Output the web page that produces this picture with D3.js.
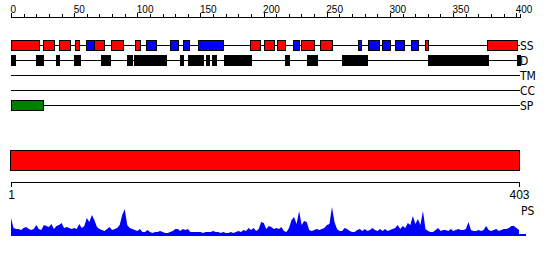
<!DOCTYPE html>
<html>
<head>
<meta charset="utf-8">
<script src="https://cdn.jsdelivr.net/npm/d3@7"></script>
<style>
  body { margin: 0; background: #fff; }
  svg { display: block; font-family: "DejaVu Sans Condensed", "DejaVu Sans", sans-serif; }
</style>
</head>
<body>
<div id="chart"></div>
<script>
// sequence length
var seqLen = 403;

// secondary structure segments [start, end] in residues
var helix = [[0,22],[25,34],[38,47],[51,54],[66,74],[79,89],[98,102],[189,197],[200,208],
             [211,217],[230,240],[245,254],[328,330],[377,401]];
var strand = [[59,66],[107,115],[126,132],[136,141],[148,168],[223,228],[275,277],
              [283,291],[294,300],[304,311],[317,322]];
// disorder
var disorder = [[0,3],[20,25],[36,38],[50,55],[71,78],[92,96],[97,123],[134,136],[140,152],
                [154,157],[159,162],[169,171],[172,190],[217,220],[234,238],[239,242],
                [262,274],[275,282],[330,378],[401,403]];
var transmem = [];
var coiled = [];
var signalP = [[0,25]];

var trackNames = ["SS", "D", "TM", "CC", "SP"];

// domain bar
var domains = [[1,403]];
var endTicks = [1, 403];

// PS profile, sampled every 2nd residue starting at 1
var psValues = [17,7,6,6,5,7,8,6,5,6,10,6,5,10,9,8,11,6,9,10,12,7,8,7,6,7,6,11,7,9,17,13,20,15,8,6,
  5,4,6,8,5,6,7,10,20,26,10,7,6,5,4,6,3,3,5,3,2,3,3,4,3,2,2,3,4,6,
  6,4,6,5,6,3,3,3,3,3,2,3,3,3,4,3,3,2,3,2,2,3,2,3,4,3,5,4,7,5,7,4,6,13,12,6,9,8,6,7,6,8,4,3,7,
  15,18,11,24,10,14,13,5,4,5,6,5,6,7,10,11,28,13,6,4,4,7,6,4,
  3,3,5,6,4,6,4,5,7,5,4,6,4,6,4,5,6,7,10,6,9,7,12,10,19,11,16,10,24,6,4,3,3,5,7,4,5,5,4,6,4,
  5,6,5,5,6,13,5,4,4,5,4,5,9,5,4,5,6,4,5,6,6,7,9,9,7,5];
var psData = psValues.map(function (v, i) { return { pos: 1 + i * 2, value: v }; });

var width = 550, height = 260;

var svg = d3.select("#chart").append("svg")
    .attr("width", width)
    .attr("height", height);

var x = d3.scaleLinear().domain([0, seqLen]).range([11, 520]);
var xb = d3.scaleLinear().domain([1, seqLen]).range([11, 519]);

// top ruler
var ruler = svg.append("g")
    .attr("transform", "translate(0,16.5)")
    .call(d3.axisTop(x)
        .tickValues(d3.range(0, 401, 10))
        .tickSizeOuter(0)
        .tickSize(3)
        .tickFormat(function (d) { return d % 50 === 0 ? d : ""; }));
ruler.select(".domain").attr("stroke", "#000").attr("shape-rendering", "crispEdges");
ruler.selectAll(".tick line")
    .attr("stroke", "#000")
    .attr("shape-rendering", "crispEdges")
    .attr("y2", function (d) { return d % 50 === 0 ? -4 : -3; });
ruler.selectAll(".tick text")
    .attr("text-anchor", "start")
    .attr("x", -1)
    .attr("y", -4)
    .attr("dy", 0)
    .attr("fill", "#000")
    .style("font-size", "10px")
    .style("font-family", null);

// tracks
var trackY = d3.scalePoint().domain(trackNames).range([45, 105]);

var tracks = svg.selectAll("g.track")
    .data(trackNames)
    .enter().append("g")
    .attr("class", "track");

tracks.append("line")
    .attr("x1", x(0))
    .attr("x2", x(seqLen))
    .attr("y1", function (d) { return trackY(d) + 0.5; })
    .attr("y2", function (d) { return trackY(d) + 0.5; })
    .attr("stroke", "#000")
    .attr("shape-rendering", "crispEdges");

tracks.append("text")
    .attr("x", 520)
    .attr("y", function (d) { return trackY(d) + 4.5; })
    .style("font-size", "12px")
    .attr("fill", "#000")
    .text(function (d) { return d; });

function drawSegments(data, track, fill, h) {
    svg.append("g").selectAll("rect")
        .data(data)
        .enter().append("rect")
        .attr("x", function (d) { return Math.round(x(d[0])) + 0.5; })
        .attr("width", function (d) { return Math.max(1, Math.round(x(d[1])) - Math.round(x(d[0]))); })
        .attr("y", trackY(track) - h / 2 + 0.5)
        .attr("height", h)
        .attr("fill", fill)
        .attr("stroke", "#000")
        .attr("shape-rendering", "crispEdges");
}

drawSegments(helix, "SS", "#ff0000", 10);
drawSegments(strand, "SS", "#0000ff", 10);
drawSegments(disorder, "D", "#000000", 10);
drawSegments(transmem, "TM", "#ffff00", 10);
drawSegments(coiled, "CC", "#00ffff", 10);
drawSegments(signalP, "SP", "#008000", 10);

// domain bar
svg.append("g").selectAll("rect")
    .data(domains)
    .enter().append("rect")
    .attr("x", function (d) { return xb(d[0]) - 0.5; })
    .attr("width", function (d) { return xb(d[1]) - xb(d[0]) + 1; })
    .attr("y", 150.5)
    .attr("height", 20)
    .attr("fill", "#ff0000")
    .attr("stroke", "#000")
    .attr("shape-rendering", "crispEdges");

// bottom axis
var bottom = svg.append("g")
    .attr("transform", "translate(0,181.5)")
    .call(d3.axisBottom(xb).tickValues(endTicks).tickSizeOuter(0).tickSize(5).tickPadding(4));
bottom.select(".domain").attr("stroke", "#000").attr("shape-rendering", "crispEdges");
bottom.selectAll(".tick line").attr("stroke", "#000").attr("shape-rendering", "crispEdges");
bottom.selectAll(".tick text")
    .attr("fill", "#000")
    .style("font-size", "12px")
    .style("font-family", null);

svg.append("text")
    .attr("x", 521)
    .attr("y", 215)
    .style("font-size", "12px")
    .attr("fill", "#000")
    .text("PS");

// PS profile
var yp = d3.scaleLinear().domain([0, 30]).range([235, 205]);

var area = d3.area()
    .x(function (d) { return xb(d.pos); })
    .y0(yp(0))
    .y1(function (d) { return yp(d.value); });

svg.append("path")
    .datum(psData)
    .attr("d", area)
    .attr("fill", "#0000ff");

svg.append("line")
    .attr("x1", xb(1))
    .attr("x2", xb(seqLen) + 7)
    .attr("y1", yp(0))
    .attr("y2", yp(0))
    .attr("stroke", "#0000ff")
    .attr("stroke-width", 2);
</script>
</body>
</html>
